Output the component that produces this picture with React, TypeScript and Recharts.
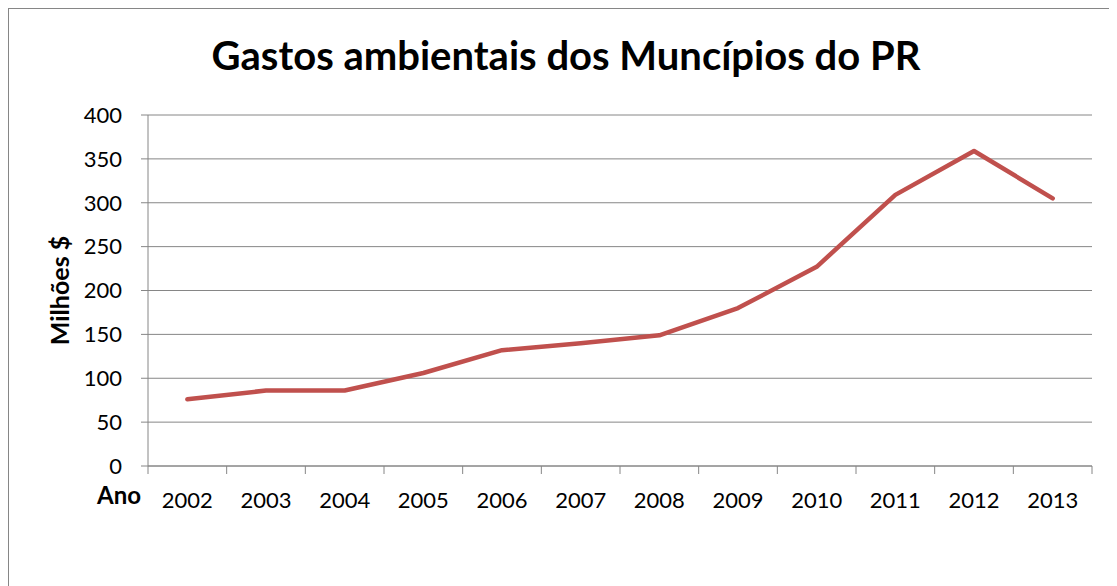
import { LineChart, Line, XAxis, YAxis, CartesianGrid } from "recharts";

const YEARS = ["2002", "2003", "2004", "2005", "2006", "2007", "2008", "2009", "2010", "2011", "2012", "2013"];
const GASTOS = [76, 86, 86, 106, 132, 140, 149, 180, 227, 309, 359, 305];
const Y_TICKS = [0, 50, 100, 150, 200, 250, 300, 350, 400];

const FONT = "Lato, 'Open Sans', sans-serif";
const GRAY = "#868686";

// each year sits in the middle of its slot, slot edges carry the tick marks
const data = YEARS.map((year, i) => ({ pos: i + 0.5, year, gastos: GASTOS[i] }));
const xTicks = [0, ...data.flatMap((d, i) => [d.pos, i + 1])];

function YearTick(props: any) {
  const { x, y, payload } = props;
  const v = payload.value as number;
  if (Number.isInteger(v)) {
    return <line x1={x} x2={x} y1={y} y2={y + 8} stroke={GRAY} strokeWidth={1} />;
  }
  const label = YEARS[Math.floor(v)];
  return (
    <text x={x} y={y + 42} textAnchor="middle" fill="#000" fontSize={22} fontFamily={FONT}>
      {label}
    </text>
  );
}

export default function App() {
  return (
    <div
      style={{
        position: "relative",
        width: 1109,
        height: 578,
        borderTop: `1px solid ${GRAY}`,
        borderLeft: `1px solid ${GRAY}`,
        boxSizing: "border-box",
        background: "#fff",
      }}
    >
      <div
        style={{
          position: "absolute",
          left: 0,
          width: 1114,
          top: 22,
          textAlign: "center",
          fontFamily: FONT,
          fontWeight: 700,
          fontSize: 40,
          color: "#000",
        }}
      >
        Gastos ambientais dos Muncípios do PR
      </div>
      <div
        style={{
          position: "absolute",
          left: 88,
          top: 471,
          fontFamily: FONT,
          fontWeight: 700,
          fontSize: 24,
        }}
      >
        Ano
      </div>
      <LineChart width={1108} height={577} data={data} margin={{ top: 106, right: 25, left: 0, bottom: 60 }}>
        <CartesianGrid vertical={false} stroke={GRAY} strokeWidth={1} />
        <XAxis
          dataKey="pos"
          type="number"
          domain={[0, 12]}
          ticks={xTicks}
          interval={0}
          tick={<YearTick />}
          tickLine={false}
          tickSize={0}
          tickMargin={0}
          axisLine={{ stroke: GRAY }}
          height={60}
        />
        <YAxis
          domain={[0, 400]}
          ticks={Y_TICKS}
          interval={0}
          width={139}
          tickSize={7}
          tickMargin={19}
          tickLine={{ stroke: GRAY }}
          axisLine={{ stroke: GRAY }}
          tick={{ fill: "#000", fontSize: 22, fontFamily: FONT }}
          label={{
            value: "Milhões $",
            angle: -90,
            position: "insideLeft",
            offset: 51,
            style: { fontFamily: FONT, fontWeight: 700, fontSize: 25, fill: "#000", textAnchor: "middle" },
          }}
        />
        <Line
          type="linear"
          dataKey="gastos"
          stroke="#C0504D"
          strokeWidth={4.5}
          dot={false}
          strokeLinecap="round"
          strokeLinejoin="round"
          isAnimationActive={false}
        />
      </LineChart>
    </div>
  );
}
